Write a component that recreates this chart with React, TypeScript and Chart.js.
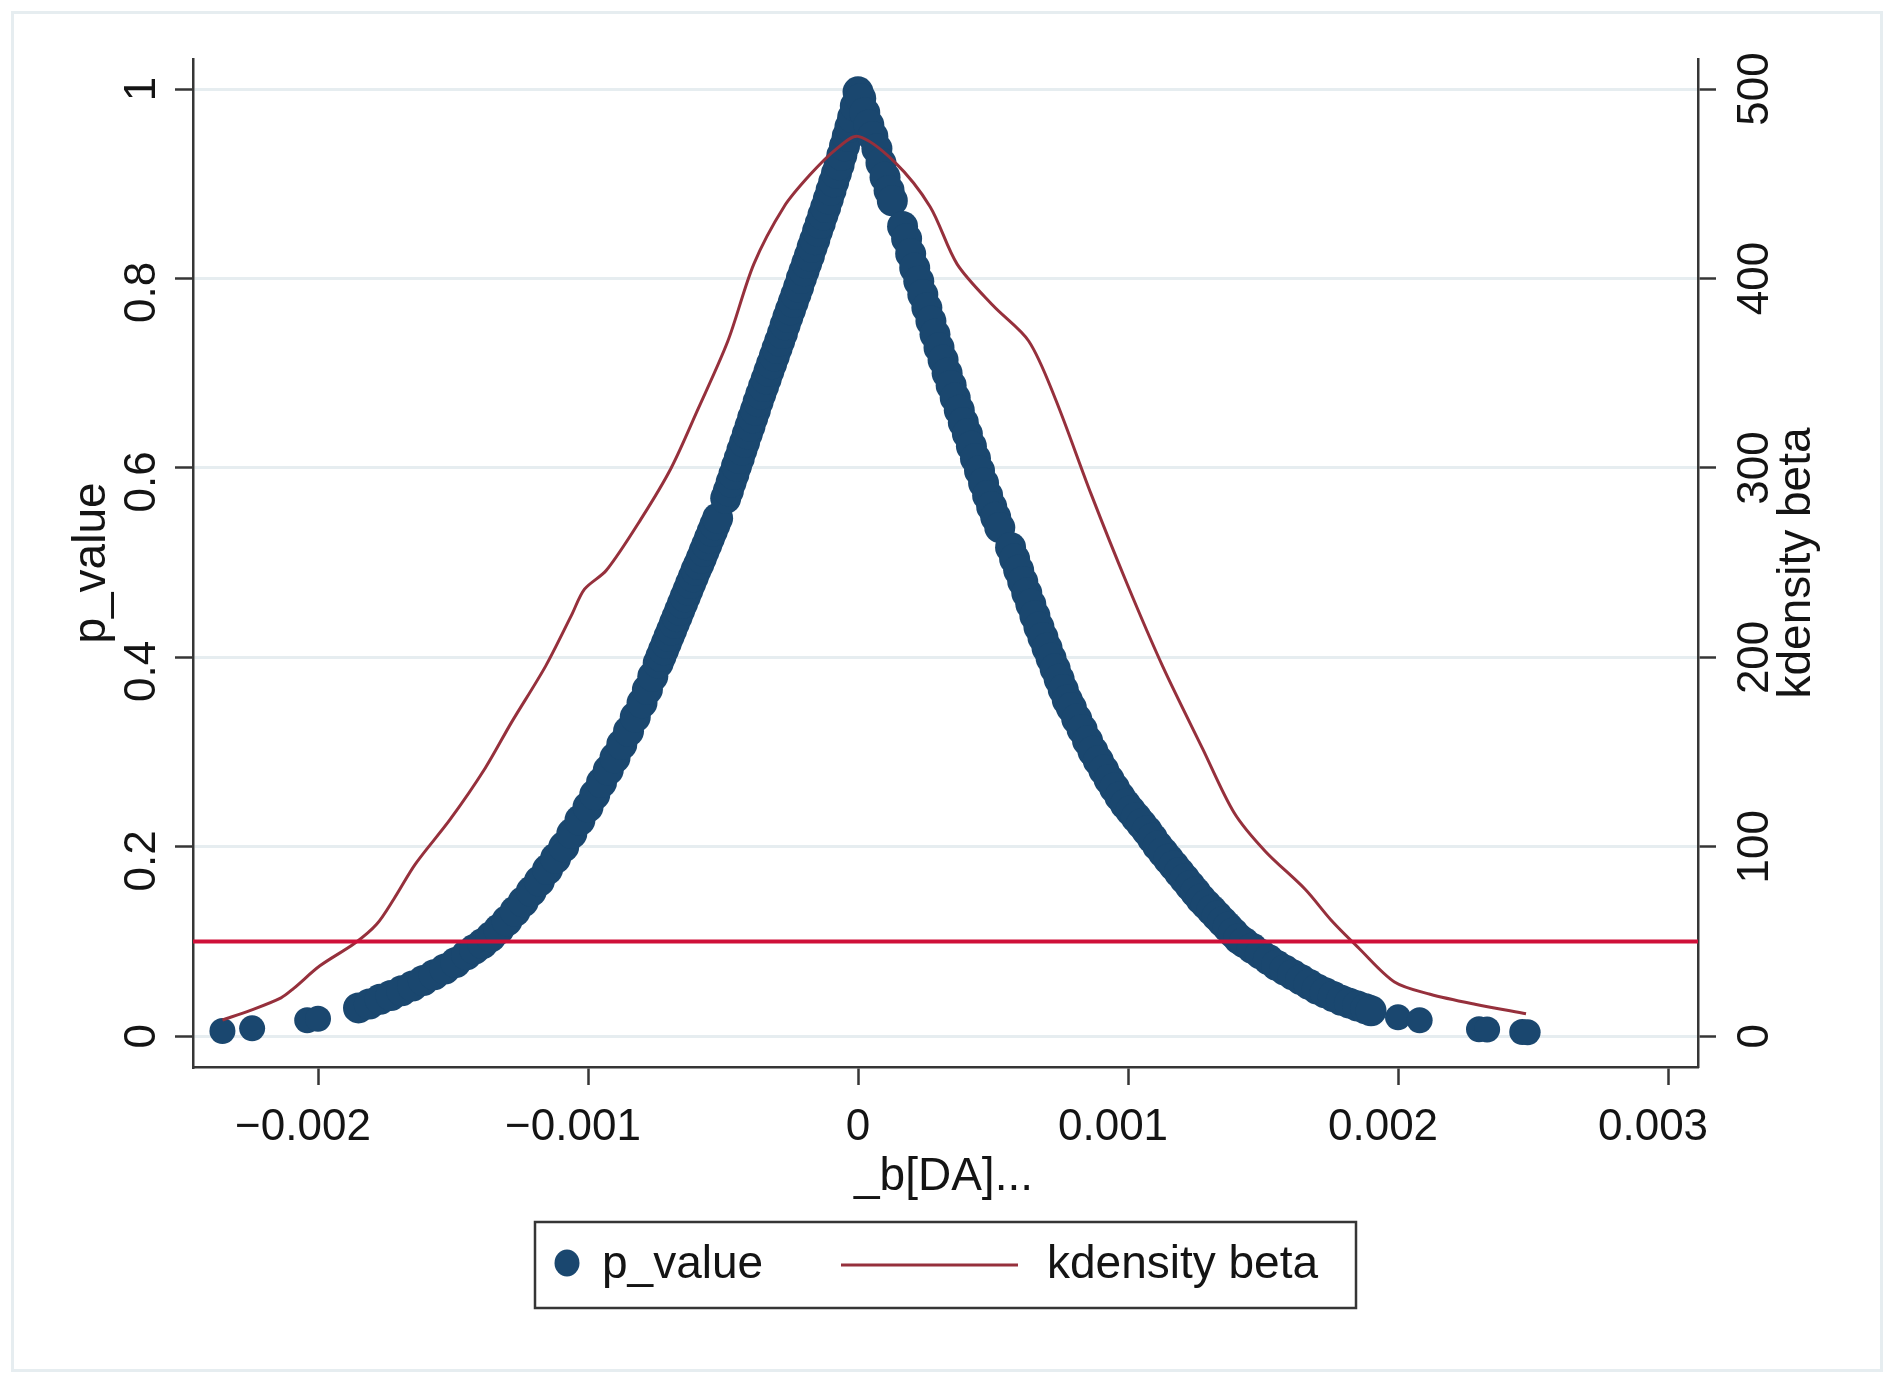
import React, { useEffect, useRef } from 'react';
import { Chart, registerables } from 'chart.js';

Chart.register(...registerables);

// ---------------- data ----------------
const betaValues: number[] = [
  -0.002354, -0.002244, -0.00204, -0.002,
  -0.00185, -0.00181, -0.00177, -0.00173, -0.00169, -0.00165, -0.00161, -0.00157, -0.00153, -0.00149,
  -0.00145, -0.00142, -0.00139, -0.00136, -0.00133, -0.0013, -0.00127, -0.00124, -0.00121, -0.00118,
  -0.00115, -0.00112, -0.00109, -0.00106, -0.00103, -0.001, -0.000975, -0.00095, -0.000925, -0.0009,
  -0.000875, -0.00085, -0.000825, -0.0008, -0.00078, -0.00076,
  -0.00074, -0.00073, -0.00072, -0.00071, -0.0007, -0.00069, -0.00068, -0.00067, -0.00066, -0.00065,
  -0.00064, -0.00063, -0.00062, -0.00061, -0.0006, -0.00059, -0.00058, -0.00057, -0.00056, -0.00055,
  -0.00054, -0.00053, -0.00052,
  -0.00049, -0.00048, -0.00047, -0.00046, -0.00045, -0.00044, -0.00043, -0.00042, -0.00041, -0.0004,
  -0.00039, -0.00038, -0.00037, -0.00036, -0.00035, -0.00034, -0.00033, -0.00032, -0.00031, -0.0003,
  -0.00029, -0.00028, -0.00027, -0.00026, -0.00025, -0.00024, -0.00023, -0.00022, -0.00021, -0.0002,
  -0.00019, -0.00018, -0.00017, -0.00016, -0.00015, -0.00014, -0.00013, -0.00012, -0.00011, -0.0001,
  -0.00009, -0.00008, -0.00007, -0.00006, -0.00005, -0.00004, -0.00003, -0.00002, -0.00001, 0,
  0.00001, 0.000025, 0.00004, 0.000055, 0.00007, 0.000085, 0.0001, 0.000115, 0.000127,
  0.000165, 0.00018, 0.000195, 0.00021, 0.000225, 0.00024, 0.000255, 0.00027, 0.000285, 0.0003,
  0.000315, 0.00033, 0.000345, 0.00036, 0.000375, 0.00039, 0.000405, 0.00042, 0.000435, 0.00045,
  0.000465, 0.00048, 0.000495, 0.00051, 0.000525,
  0.000565, 0.00058, 0.000595, 0.00061, 0.000625, 0.00064, 0.000655, 0.00067, 0.000685, 0.0007,
  0.000715, 0.00073, 0.000745, 0.00076, 0.000775, 0.00079, 0.00081, 0.00083, 0.00085, 0.00087,
  0.00089, 0.00091, 0.00093, 0.00095, 0.00097, 0.00099, 0.00101, 0.00103, 0.00105, 0.00107,
  0.00109, 0.00111, 0.00113, 0.00115, 0.00117, 0.00119, 0.00121, 0.00123, 0.00125, 0.00127,
  0.00129, 0.00131, 0.00133, 0.00135, 0.00137, 0.00139, 0.00141, 0.00143, 0.00146, 0.00149,
  0.00152, 0.00155, 0.00158, 0.00161, 0.00164, 0.00167, 0.0017, 0.00173, 0.00176, 0.00179,
  0.00182, 0.00185, 0.00188, 0.0019,
  0.002, 0.00208, 0.0023, 0.00233, 0.00246, 0.00248,
];

const pValues: number[] = [
  0.0056, 0.0084, 0.017, 0.0185,
  0.03, 0.034, 0.039, 0.043, 0.048, 0.053, 0.059, 0.065, 0.071, 0.078,
  0.086, 0.092, 0.098, 0.105, 0.113, 0.122, 0.132, 0.142, 0.153, 0.164,
  0.176, 0.188, 0.2, 0.214, 0.228, 0.242, 0.255, 0.268, 0.281, 0.294,
  0.308, 0.322, 0.337, 0.352, 0.366, 0.38,
  0.394, 0.401, 0.408, 0.415, 0.422, 0.429, 0.436, 0.443, 0.45, 0.457,
  0.464, 0.471, 0.478, 0.485, 0.492, 0.498, 0.505, 0.512, 0.519, 0.526,
  0.533, 0.54, 0.547,
  0.568, 0.576, 0.585, 0.593, 0.602, 0.61, 0.619, 0.627, 0.636, 0.644,
  0.653, 0.661, 0.67, 0.678, 0.686, 0.694, 0.702, 0.71, 0.718, 0.726,
  0.734, 0.742, 0.751, 0.759, 0.767, 0.775, 0.783, 0.791, 0.8, 0.808,
  0.816, 0.824, 0.833, 0.841, 0.85, 0.858, 0.867, 0.875, 0.884, 0.893,
  0.902, 0.911, 0.92, 0.93, 0.94, 0.95, 0.96, 0.97, 0.982, 0.997,
  0.99, 0.975, 0.962, 0.95, 0.937, 0.922, 0.907, 0.893, 0.882,
  0.855, 0.842, 0.826, 0.811, 0.797, 0.783, 0.769, 0.755, 0.741, 0.727,
  0.714, 0.7, 0.687, 0.674, 0.661, 0.648, 0.636, 0.623, 0.61, 0.597,
  0.584, 0.571, 0.559, 0.548, 0.537,
  0.516, 0.504, 0.492, 0.48, 0.468, 0.456, 0.444, 0.432, 0.421, 0.41,
  0.399, 0.388, 0.377, 0.366, 0.355, 0.347, 0.335, 0.324, 0.312, 0.301,
  0.291, 0.281, 0.271, 0.262, 0.253, 0.245, 0.238, 0.231, 0.224, 0.217,
  0.209, 0.201, 0.194, 0.187, 0.18, 0.173, 0.166, 0.159, 0.152, 0.145,
  0.139, 0.133, 0.127, 0.121, 0.115, 0.109, 0.103, 0.099, 0.093, 0.087,
  0.081, 0.075, 0.07, 0.065, 0.06, 0.055, 0.05, 0.046, 0.042, 0.038,
  0.035, 0.032, 0.029, 0.027,
  0.02, 0.017, 0.0075, 0.0072, 0.0045, 0.0043,
];

const kdensityX: number[] = [
  -0.002354, -0.00225, -0.002137, -0.00209, -0.001993, -0.001864, -0.001783, -0.001719, -0.001639,
  -0.00151, -0.001381, -0.001285, -0.001157, -0.001061, -0.001013, -0.000932, -0.000804, -0.000692,
  -0.000596, -0.000482, -0.000386, -0.000274, -0.000178, -0.000081, 0,
  0.000136, 0.000267, 0.000367, 0.0005, 0.000632, 0.00073, 0.000863, 0.000996, 0.001128, 0.001277,
  0.001393, 0.001508, 0.001656, 0.001756, 0.001855, 0.001987, 0.002119, 0.002285, 0.002474,
];

const kdensityY: number[] = [
  8.6, 13.7, 20.3, 25.3, 37.2, 49.1, 59.1, 72.5, 91,
  114.6, 141.5, 165.3, 195.4, 222.3, 236, 246, 273, 300,
  330, 367, 407.6, 437.9, 454.7, 468.3, 475,
  461.4, 437.9, 407.6, 385.7, 367, 336.8, 286.3, 239, 195.4, 151.6,
  118, 97.7, 77.6, 60.7, 46.5, 28.7, 22.2, 16.9, 11.9,
];

const xTicks: number[] = [-0.002, -0.001, 0, 0.001, 0.002, 0.003];
const xTickLabels: string[] = ['\u22120.002', '\u22120.001', '0', '0.001', '0.002', '0.003'];
const yTicks: number[] = [0, 0.2, 0.4, 0.6, 0.8, 1];
const yTickLabels: string[] = ['0', '0.2', '0.4', '0.6', '0.8', '1'];
const y2Ticks: number[] = [0, 100, 200, 300, 400, 500];
const y2TickLabels: string[] = ['0', '100', '200', '300', '400', '500'];
const refLineValue = 0.1;

const X_MIN = -0.002463;
const X_MAX = 0.003111;
const Y_MIN = -0.0324;
const Y_MAX = 1.0317;
const Y2_MIN = -16.2;
const Y2_MAX = 515.85;

const xTitle = '_b[DA]...';
const yTitle = 'p_value';
const y2Title = 'kdensity beta';
const legendLabels = ['p_value', 'kdensity beta'];

// ---------------- style ----------------
const W = 1894;
const H = 1380;
const FONT = '"Liberation Sans", Arial, Helvetica, sans-serif';
const NAVY = '#1a476f';
const MAROON = '#96303c';
const RED = '#cf1039';
const AXIS = '#363636';
const GRID = '#e6edf0';
const TEXT = '#141414';
const ISOLATED_RADIUS = 13;
const BAND_RADIUS = 15.5;

const decorPlugin = {
  id: 'stataDecor',
  beforeDraw(chart: any) {
    const ctx = chart.ctx as CanvasRenderingContext2D;
    ctx.save();
    ctx.fillStyle = '#ffffff';
    ctx.fillRect(0, 0, chart.width, chart.height);
    ctx.strokeStyle = '#e6edf0';
    ctx.lineWidth = 3;
    ctx.strokeRect(12.5, 12.5, chart.width - 25, chart.height - 22);
    ctx.restore();
  },
  afterDraw(chart: any) {
    const ctx = chart.ctx as CanvasRenderingContext2D;
    const area = chart.chartArea;
    const xs = chart.scales.x;
    const ys = chart.scales.y;
    const y2s = chart.scales.y2;
    ctx.save();
    ctx.fillStyle = TEXT;
    ctx.font = `44px ${FONT}`;
    ctx.textBaseline = 'alphabetic';
    ctx.textAlign = 'center';

    // x tick labels
    xTicks.forEach((v, i) => {
      const lbl = xTickLabels[i];
      const px = xs.getPixelForValue(v) + (lbl.includes('.') ? -15 : 0);
      ctx.fillText(lbl, px, area.bottom + 73);
    });

    // left tick labels (rotated)
    yTicks.forEach((v, i) => {
      const lbl = yTickLabels[i];
      ctx.save();
      ctx.translate(area.left - 38, ys.getPixelForValue(v));
      ctx.rotate(-Math.PI / 2);
      ctx.fillText(lbl, lbl.includes('.') ? -14 : 0, 0);
      ctx.restore();
    });

    // right tick labels (rotated)
    y2Ticks.forEach((v, i) => {
      const lbl = y2TickLabels[i];
      ctx.save();
      ctx.translate(area.right + 70, y2s.getPixelForValue(v));
      ctx.rotate(-Math.PI / 2);
      ctx.fillText(lbl, 0, 0);
      ctx.restore();
    });

    ctx.font = `46px ${FONT}`;
    const cy = (area.top + area.bottom) / 2;
    const cx = (area.left + area.right) / 2;

    // axis titles
    ctx.save();
    ctx.translate(area.left - 88, cy);
    ctx.rotate(-Math.PI / 2);
    ctx.fillText(yTitle, 0, 0);
    ctx.restore();

    ctx.save();
    ctx.translate(area.right + 112, cy);
    ctx.rotate(-Math.PI / 2);
    ctx.fillText(y2Title, 0, 0);
    ctx.restore();

    ctx.fillText(xTitle, cx - 2, area.bottom + 123);

    // legend
    const bx = cx - 410.5;
    const by = area.bottom + 155;
    const bw = 821;
    const bh = 86;
    ctx.strokeStyle = AXIS;
    ctx.lineWidth = 2.5;
    ctx.strokeRect(bx, by, bw, bh);
    const midY = by + 42;
    ctx.fillStyle = NAVY;
    ctx.beginPath();
    ctx.ellipse(bx + 32, midY - 1, 12.5, 13.5, 0, 0, Math.PI * 2);
    ctx.fill();
    ctx.fillStyle = TEXT;
    ctx.textAlign = 'left';
    ctx.fillText(legendLabels[0], bx + 67, midY + 14);
    ctx.strokeStyle = MAROON;
    ctx.lineWidth = 3;
    ctx.beginPath();
    ctx.moveTo(bx + 306, midY + 1);
    ctx.lineTo(bx + 483, midY + 1);
    ctx.stroke();
    ctx.fillText(legendLabels[1], bx + 512, midY + 14);

    ctx.restore();
  },
};

export default function App() {
  const canvasRef = useRef<HTMLCanvasElement | null>(null);

  useEffect(() => {
    if (!canvasRef.current) return;
    const scatterData = betaValues.map((b, i) => ({ x: b, y: pValues[i] }));
    const kdData = kdensityX.map((b, i) => ({ x: b, y: kdensityY[i] }));
    const refData = [
      { x: X_MIN, y: refLineValue },
      { x: X_MAX, y: refLineValue },
    ];
    const n = scatterData.length;
    const radii = scatterData.map((_, i) => (i < 4 || i >= n - 6 ? ISOLATED_RADIUS : BAND_RADIUS));

    const chart = new Chart(canvasRef.current, {
      type: 'scatter',
      data: {
        datasets: [
          {
            label: legendLabels[0],
            data: scatterData,
            backgroundColor: NAVY,
            borderWidth: 0,
            pointRadius: radii,
            pointHoverRadius: radii,
            showLine: false,
            yAxisID: 'y',
            order: 3,
          },
          {
            label: legendLabels[1],
            data: kdData,
            borderColor: MAROON,
            backgroundColor: MAROON,
            borderWidth: 3,
            pointRadius: 0,
            showLine: true,
            tension: 0.3,
            yAxisID: 'y2',
            order: 2,
          },
          {
            label: 'ref',
            data: refData,
            borderColor: RED,
            backgroundColor: RED,
            borderWidth: 4,
            pointRadius: 0,
            showLine: true,
            yAxisID: 'y',
            order: 1,
          },
        ] as any,
      },
      options: {
        responsive: false,
        animation: false,
        events: [],
        layout: { padding: { top: 59, left: 0, right: 0, bottom: 0 } },
        plugins: {
          legend: { display: false },
          title: { display: false },
          tooltip: { enabled: false },
        },
        scales: {
          x: {
            type: 'linear',
            position: 'bottom',
            min: X_MIN,
            max: X_MAX,
            afterBuildTicks: (s: any) => {
              s.ticks = xTicks.map((v) => ({ value: v }));
            },
            afterFit: (s: any) => {
              s.height = 313;
            },
            ticks: { display: false },
            grid: {
              drawOnChartArea: false,
              drawTicks: true,
              tickLength: 18,
              tickColor: AXIS,
              tickWidth: 2.5,
            },
            border: { display: true, color: AXIS, width: 2.5 },
          },
          y: {
            type: 'linear',
            position: 'left',
            min: Y_MIN,
            max: Y_MAX,
            afterBuildTicks: (s: any) => {
              s.ticks = yTicks.map((v) => ({ value: v }));
            },
            afterFit: (s: any) => {
              s.width = 193;
            },
            ticks: { display: false },
            grid: {
              drawOnChartArea: true,
              color: GRID,
              lineWidth: 3,
              drawTicks: true,
              tickLength: 18,
              tickColor: AXIS,
              tickWidth: 2.5,
            },
            border: { display: true, color: AXIS, width: 2.5 },
          },
          y2: {
            type: 'linear',
            position: 'right',
            min: Y2_MIN,
            max: Y2_MAX,
            afterBuildTicks: (s: any) => {
              s.ticks = y2Ticks.map((v) => ({ value: v }));
            },
            afterFit: (s: any) => {
              s.width = 196;
            },
            ticks: { display: false },
            grid: {
              drawOnChartArea: false,
              drawTicks: true,
              tickLength: 18,
              tickColor: AXIS,
              tickWidth: 2.5,
            },
            border: { display: true, color: AXIS, width: 2.5 },
          },
        },
      } as any,
      plugins: [decorPlugin],
    });

    return () => {
      chart.destroy();
    };
  }, []);

  return (
    <div style={{ position: 'absolute', left: 0, top: 0, width: W, height: H, background: '#ffffff' }}>
      <canvas ref={canvasRef} width={W} height={H} style={{ display: 'block', width: W, height: H }} />
    </div>
  );
}
